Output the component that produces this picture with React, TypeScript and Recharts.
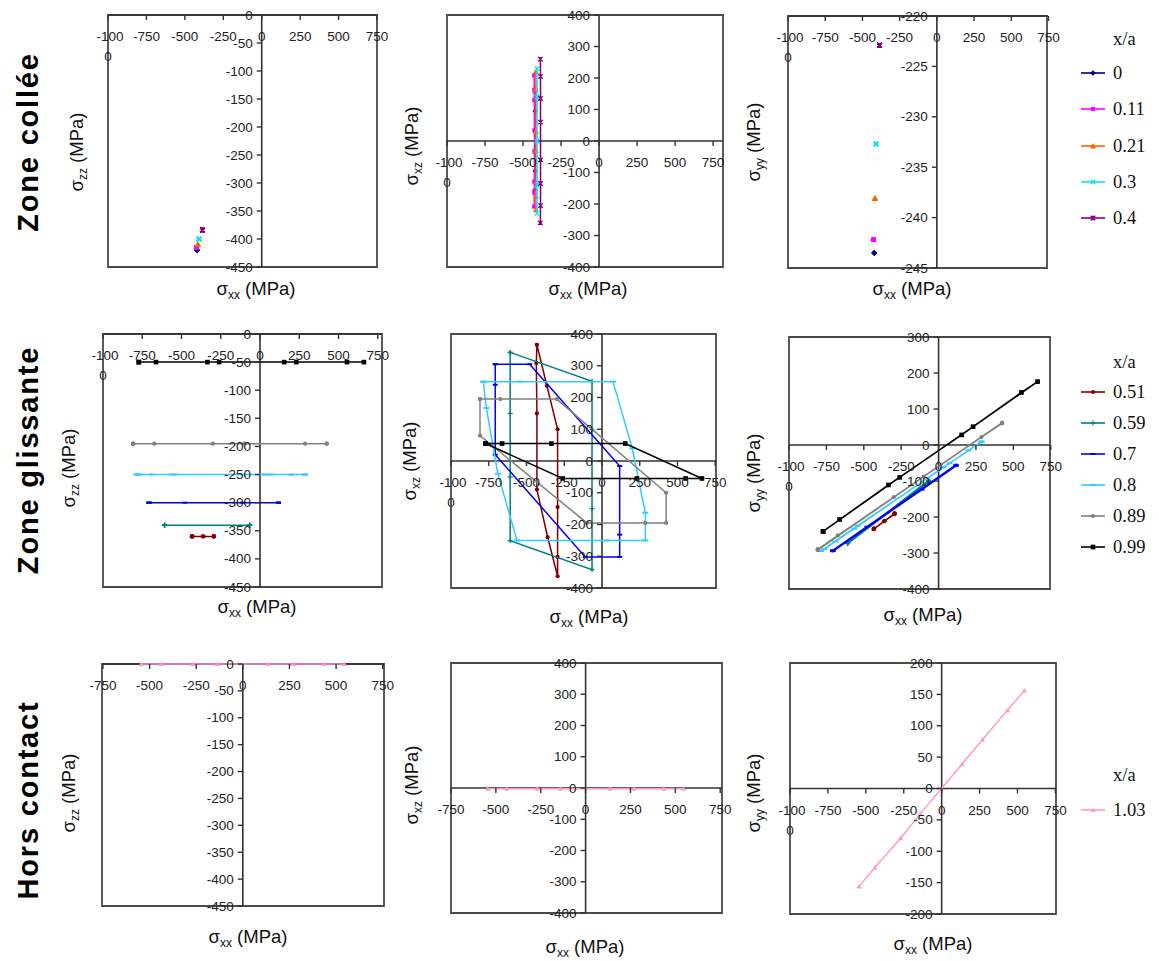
import React from "react";
import {
  ScatterChart,
  Scatter,
  XAxis,
  YAxis,
  ReferenceLine,
  ReferenceArea,
  ReferenceDot,
} from "recharts";

// tick values
const xTicksWide = [-1000, -750, -500, -250, 0, 250, 500, 750];
const xTicksNarrow = [-750, -500, -250, 0, 250, 500, 750];
const zzTicks = [0, -50, -100, -150, -200, -250, -300, -350, -400, -450];
const xzTicks = [400, 300, 200, 100, 0, -100, -200, -300, -400];
const yyTicksCollee = [-220, -225, -230, -235, -240, -245];
const yyTicksGliss = [300, 200, 100, 0, -100, -200, -300, -400];
const yyTicksHors = [200, 150, 100, 50, 0, -50, -100, -150, -200];

// zone collée : x/a = 0, 0.11, 0.21, 0.3, 0.4
const c00Sxx = [-421, -420, -420, -420, -420, -421];
const c00Szz = [-420, -420, -420, -420, -420, -420];
const c00Sxz = [156, 95, 30, -30, -95, -156];
const c00Syy = [-243.5, -243.5, -243.5, -243.5, -243.5, -243.5];

const c11Sxx = [-427, -426, -426, -425, -425, -426, -426, -427];
const c11Szz = [-415, -415, -415, -415, -415, -415, -415, -415];
const c11Sxz = [209, 162, 130, 35, -34, -129, -164, -208];
const c11Syy = [-242.2, -242.2, -242.2, -242.2, -242.2, -242.2, -242.2, -242.2];

const c21Sxx = [-416, -415, -415, -415, -415, -416];
const c21Szz = [-410, -410, -410, -410, -410, -410];
const c21Sxz = [220, 165, 30, -30, -175, -218];
const c21Syy = [-238.1, -238.1, -238.1, -238.1, -238.1, -238.1];

const c30Sxx = [-409, -408, -408, -408, -409];
const c30Szz = [-400, -400, -400, -400, -400];
const c30Sxz = [230, 140, 0, -140, -230];
const c30Syy = [-232.7, -232.7, -232.7, -232.7, -232.7];

const c40Sxx = [-386, -385, -385, -385, -385, -385, -385, -386];
const c40Szz = [-384, -384, -384, -384, -384, -384, -384, -384];
const c40Sxz = [260, 205, 135, 60, -60, -135, -205, -260];
const c40Syy = [-222.9, -222.9, -222.9, -222.9, -222.9, -222.9, -222.9, -222.9];

// zone glissante : x/a = 0.51 … 0.99
const g51Sxx = [-431, -365, -294, -294, -294, -294, -360, -431, -431, -435, -431];
const g51Szz = [-360, -360, -360, -360, -360, -360, -360, -360, -360, -360, -360];
const g51Sxz = [366, 237, 100, -145, -302, -363, -240, -90, 150, 309, 366];
const g51Syy = [-232, -212, -190, -191, -190, -192, -211, -233, -232, -234, -232];

const g59Sxx = [-608, -66, -66, -66, -66, -608, -608, -608, -608];
const g59Szz = [-340, -340, -340, -340, -340, -340, -340, -340, -340];
const g59Sxz = [342, 251, 100, -150, -342, -251, -50, 150, 342];
const g59Syy = [-272, -98, -100, -101, -102, -274, -273, -272, -272];

const g70Sxx = [-707, -479, 117, 117, 117, -111, -707, -707, -707];
const g70Szz = [-300, -300, -300, -300, -300, -300, -300, -300, -300];
const g70Sxz = [305, 305, -16, -232, -302, -302, 20, 240, 305];
const g70Syy = [-293, -227, -55, -57, -58, -124, -295, -294, -293];

const g80Sxx = [-786, -540, 73, 200, 287, 287, 30, -563, -690, -766, -786];
const g80Szz = [-250, -250, -250, -250, -250, -250, -250, -250, -250, -250, -250];
const g80Sxz = [250, 250, 250, 40, -163, -250, -250, -250, -40, 167, 250];
const g80Syy = [-294, -224, -51, -15, 10, 8, -62, -232, -268, -290, -294];

const g89Sxx = [-808, -673, -300, 425, 425, 287, -100, -808, -808];
const g89Szz = [-195, -195, -195, -195, -195, -195, -195, -195, -195];
const g89Sxz = [195, 195, 195, -100, -195, -195, -195, 80, 195];
const g89Syy = [-290, -251, -145, 62, 60, 22, -88, -292, -290];

const g99Sxx = [-772, -662, -335, 154, 662, 554, 231, -260, -772];
const g99Szz = [-50, -50, -50, -50, -50, -50, -50, -50, -50];
const g99Sxz = [55, 55, 55, 55, -55, -55, -55, -55, 55];
const g99Syy = [-240, -207, -111, 28, 176, 146, 51, -90, -240];

// hors contact : x/a = 1.03
const h103Sxx = [-545, -440, -270, -140, 135, 270, 435, 545];
const h103Szz = [0, 0, 0, 0, 0, 0, 0, 0];
const h103Sxz = [-2, -2, -2, -2, -2, -2, -2, -2];
const h103Syy = [-156, -126, -79, -40, 39, 78, 125, 156];

type Kind = "diamond" | "square" | "triangle" | "x" | "star" | "circle" | "plus" | "dash";
type Field = "szz" | "sxz" | "syy";
interface Serie {
  name: string;
  color: string;
  kind: Kind;
  size: number;
  sxx: number[];
  szz: number[];
  sxz: number[];
  syy: number[];
}

const collee: Serie[] = [
  { name: "0", color: "#000080", kind: "diamond", size: 2.8, sxx: c00Sxx, szz: c00Szz, sxz: c00Sxz, syy: c00Syy },
  { name: "0.11", color: "#FF00FF", kind: "square", size: 2.6, sxx: c11Sxx, szz: c11Szz, sxz: c11Sxz, syy: c11Syy },
  { name: "0.21", color: "#FF6600", kind: "triangle", size: 3, sxx: c21Sxx, szz: c21Szz, sxz: c21Sxz, syy: c21Syy },
  { name: "0.3", color: "#00E8F0", kind: "x", size: 2.2, sxx: c30Sxx, szz: c30Szz, sxz: c30Sxz, syy: c30Syy },
  { name: "0.4", color: "#800080", kind: "star", size: 2.2, sxx: c40Sxx, szz: c40Szz, sxz: c40Sxz, syy: c40Syy },
];

const glissante: Serie[] = [
  { name: "0.51", color: "#800000", kind: "circle", size: 2.1, sxx: g51Sxx, szz: g51Szz, sxz: g51Sxz, syy: g51Syy },
  { name: "0.59", color: "#008080", kind: "plus", size: 2.5, sxx: g59Sxx, szz: g59Szz, sxz: g59Sxz, syy: g59Syy },
  { name: "0.7", color: "#0000FF", kind: "dash", size: 2.5, sxx: g70Sxx, szz: g70Szz, sxz: g70Sxz, syy: g70Syy },
  { name: "0.8", color: "#33CCFF", kind: "dash", size: 3, sxx: g80Sxx, szz: g80Szz, sxz: g80Sxz, syy: g80Syy },
  { name: "0.89", color: "#808080", kind: "circle", size: 2.1, sxx: g89Sxx, szz: g89Szz, sxz: g89Sxz, syy: g89Syy },
  { name: "0.99", color: "#000000", kind: "square", size: 2.9, sxx: g99Sxx, szz: g99Szz, sxz: g99Sxz, syy: g99Syy },
];

const hors: Serie[] = [
  { name: "1.03", color: "#FF99CC", kind: "triangle", size: 2.6, sxx: h103Sxx, szz: h103Szz, sxz: h103Sxz, syy: h103Syy },
];

const SANS = '"Liberation Sans", Arial, sans-serif';
const SERIF = '"Liberation Serif", "Times New Roman", serif';

function Mark({ cx, cy, kind, color, s }: { cx: number; cy: number; kind: Kind; color: string; s: number }) {
  switch (kind) {
    case "diamond":
      return <path d={`M${cx},${cy - s}L${cx + s},${cy}L${cx},${cy + s}L${cx - s},${cy}Z`} fill={color} />;
    case "square":
      return <rect x={cx - s * 0.8} y={cy - s * 0.8} width={s * 1.6} height={s * 1.6} fill={color} />;
    case "triangle":
      return <path d={`M${cx},${cy - s}L${cx + s},${cy + s * 0.8}L${cx - s},${cy + s * 0.8}Z`} fill={color} />;
    case "x":
      return <path d={`M${cx - s},${cy - s}L${cx + s},${cy + s}M${cx - s},${cy + s}L${cx + s},${cy - s}`} stroke={color} strokeWidth={1.3} />;
    case "star":
      return (
        <path
          d={`M${cx - s},${cy - s}L${cx + s},${cy + s}M${cx - s},${cy + s}L${cx + s},${cy - s}M${cx},${cy - s}L${cx},${cy + s}`}
          stroke={color}
          strokeWidth={1.4}
        />
      );
    case "circle":
      return <circle cx={cx} cy={cy} r={s} fill={color} />;
    case "plus":
      return <path d={`M${cx - s},${cy}L${cx + s},${cy}M${cx},${cy - s}L${cx},${cy + s}`} stroke={color} strokeWidth={1.2} />;
    case "dash":
      return <rect x={cx - s} y={cy - 1} width={2 * s} height={2} fill={color} />;
  }
  return null;
}

function XTick({ cx, cy, v }: { cx: number; cy: number; v: number }) {
  const st = { fontFamily: SANS, fontSize: 13.5, fill: "#222" };
  return (
    <g>
      <line x1={cx} y1={cy} x2={cx} y2={cy + 5} stroke="#333" strokeWidth={1.4} />
      {v === -1000 ? (
        <>
          <text x={cx + 2} y={cy + 26} textAnchor="middle" {...st}>-100</text>
          <text x={cx} y={cy + 46} textAnchor="middle" {...st}>0</text>
        </>
      ) : (
        <text x={cx} y={cy + 26} textAnchor="middle" {...st}>{v}</text>
      )}
    </g>
  );
}

function YTick({ cx, cy, v }: { cx: number; cy: number; v: number }) {
  return (
    <g>
      <line x1={cx - 5} y1={cy} x2={cx} y2={cy} stroke="#333" strokeWidth={1.4} />
      <text x={cx - 9} y={cy + 4.5} textAnchor="end" fontFamily={SANS} fontSize={13.5} fill="#222">
        {v}
      </text>
    </g>
  );
}

interface PanelProps {
  left: number;
  top: number;
  w: number;
  h: number;
  xDom: [number, number];
  yDom: [number, number];
  xTicks: number[];
  yTicks: number[];
  crossY: number;
  field: Field;
  series: Serie[];
}

function Panel({ left, top, w, h, xDom, yDom, xTicks, yTicks, crossY, field, series }: PanelProps) {
  const M = 26;
  return (
    <div style={{ position: "absolute", left: left - M, top: top - M }}>
      <ScatterChart width={w + 2 * M} height={h + 2 * M} margin={{ top: M, right: M, bottom: M, left: M }}>
        <XAxis type="number" dataKey="x" domain={xDom} hide />
        <YAxis type="number" dataKey="y" domain={yDom} hide />
        <ReferenceArea
          x1={xDom[0]}
          x2={xDom[1]}
          y1={yDom[0]}
          y2={yDom[1]}
          fill="none"
          fillOpacity={0}
          stroke="#4a4a4a"
          strokeWidth={1.8}
          ifOverflow="visible"
        />
        <ReferenceLine x={0} stroke="#333" strokeWidth={1.6} ifOverflow="visible" />
        <ReferenceLine y={crossY} stroke="#333" strokeWidth={1.6} ifOverflow="visible" />
        {series.map((s) => (
          <Scatter
            key={s.name}
            name={s.name}
            data={s.sxx.map((x, i) => ({ x, y: s[field][i] }))}
            fill={s.color}
            line={{ stroke: s.color, strokeWidth: 1.5 }}
            isAnimationActive={false}
            shape={(p: any) => <Mark cx={p.cx} cy={p.cy} kind={s.kind} color={s.color} s={s.size} />}
          />
        ))}
        {xTicks.map((t) => (
          <ReferenceDot
            key={"x" + t}
            x={t}
            y={crossY}
            ifOverflow="visible"
            shape={(p: any) => <XTick cx={p.cx} cy={p.cy} v={t} />}
          />
        ))}
        {yTicks.map((t) => (
          <ReferenceDot
            key={"y" + t}
            x={0}
            y={t}
            ifOverflow="visible"
            shape={(p: any) => <YTick cx={p.cx} cy={p.cy} v={t} />}
          />
        ))}
      </ScatterChart>
    </div>
  );
}

function Title({ x, y, sub, rotate }: { x: number; y: number; sub: string; rotate?: boolean }) {
  return (
    <div
      style={{
        position: "absolute",
        left: x,
        top: y,
        transform: `translate(-50%, -50%)${rotate ? " rotate(-90deg)" : ""}`,
        whiteSpace: "nowrap",
        fontFamily: SANS,
        fontSize: 18.5,
        color: "#111",
        lineHeight: "22px",
      }}
    >
      σ<sub style={{ fontSize: 12, verticalAlign: "-4px" }}>{sub}</sub> (MPa)
    </div>
  );
}

function RowLabel({ y, text }: { y: number; text: string }) {
  return (
    <div
      style={{
        position: "absolute",
        left: 28,
        top: y,
        transform: "translate(-50%, -50%) rotate(-90deg)",
        whiteSpace: "nowrap",
        fontFamily: SANS,
        fontWeight: "bold",
        fontSize: 29,
        letterSpacing: 1.8,
        color: "#000",
      }}
    >
      {text}
    </div>
  );
}

function LegendBlock({ titleY, firstY, rowH, series }: { titleY: number; firstY: number; rowH: number; series: Serie[] }) {
  const label = { position: "absolute" as const, left: 1113, fontFamily: SERIF, fontSize: 18.5, color: "#111", lineHeight: "20px" };
  return (
    <>
      <div style={{ ...label, top: titleY - 10 }}>x/a</div>
      {series.map((s, i) => {
        const cy = firstY + i * rowH;
        return (
          <React.Fragment key={s.name}>
            <svg width={28} height={14} style={{ position: "absolute", left: 1080, top: cy - 7 }}>
              <line x1={1} y1={7} x2={25} y2={7} stroke={s.color} strokeWidth={1.6} />
              <Mark cx={13} cy={7} kind={s.kind} color={s.color} s={s.size} />
            </svg>
            <div style={{ ...label, top: cy - 10 }}>{s.name}</div>
          </React.Fragment>
        );
      })}
    </>
  );
}

export default function App() {
  return (
    <div style={{ position: "absolute", left: 0, top: 0, width: 1159, height: 961, background: "#fff", overflow: "hidden" }}>
      <RowLabel y={142} text="Zone collée" />
      <RowLabel y={460} text="Zone glissante" />
      <RowLabel y={800} text="Hors contact" />

      {/* Zone collée */}
      <Panel left={108} top={15} w={269} h={252} xDom={[-1000, 750]} yDom={[-450, 0]} xTicks={xTicksWide} yTicks={zzTicks} crossY={0} field="szz" series={collee} />
      <Panel left={447} top={15} w={276} h={252} xDom={[-1000, 815]} yDom={[-400, 400]} xTicks={xTicksWide} yTicks={xzTicks} crossY={0} field="sxz" series={collee} />
      <Panel left={788} top={16} w={259} h={252} xDom={[-1000, 740]} yDom={[-245, -220]} xTicks={xTicksWide} yTicks={yyTicksCollee} crossY={-220} field="syy" series={collee} />

      {/* Zone glissante */}
      <Panel left={103} top={334} w={279} h={253} xDom={[-1000, 777]} yDom={[-450, 0]} xTicks={xTicksWide} yTicks={zzTicks} crossY={0} field="szz" series={glissante} />
      <Panel left={451} top={334} w={265} h={254} xDom={[-1000, 755]} yDom={[-400, 400]} xTicks={xTicksWide} yTicks={xzTicks} crossY={0} field="sxz" series={glissante} />
      <Panel left={789} top={337} w={261} h={252} xDom={[-1000, 745]} yDom={[-400, 300]} xTicks={xTicksWide} yTicks={yyTicksGliss} crossY={0} field="syy" series={glissante} />

      {/* Hors contact */}
      <Panel left={102} top={664} w={282} h={242} xDom={[-755, 757]} yDom={[-450, 0]} xTicks={xTicksNarrow} yTicks={zzTicks} crossY={0} field="szz" series={hors} />
      <Panel left={451} top={663} w={271} h={250} xDom={[-750, 760]} yDom={[-400, 400]} xTicks={xTicksNarrow} yTicks={xzTicks} crossY={0} field="sxz" series={hors} />
      <Panel left={790} top={663} w={266} h={251} xDom={[-1000, 754]} yDom={[-200, 200]} xTicks={xTicksWide} yTicks={yyTicksHors} crossY={0} field="syy" series={hors} />

      {/* axis titles */}
      <Title x={256} y={292} sub="xx" />
      <Title x={588} y={292} sub="xx" />
      <Title x={912} y={292} sub="xx" />
      <Title x={80} y={152} sub="zz" rotate />
      <Title x={415} y={146} sub="xz" rotate />
      <Title x={757} y={142} sub="yy" rotate />

      <Title x={257} y={610} sub="xx" />
      <Title x={589} y={620} sub="xx" />
      <Title x={923} y={618} sub="xx" />
      <Title x={72} y={468} sub="zz" rotate />
      <Title x={413} y={461} sub="xz" rotate />
      <Title x={757} y={473} sub="yy" rotate />

      <Title x={248} y={940} sub="xx" />
      <Title x={585} y={950} sub="xx" />
      <Title x={933} y={947} sub="xx" />
      <Title x={72} y={793} sub="zz" rotate />
      <Title x={415} y={785} sub="xz" rotate />
      <Title x={757} y={793} sub="yy" rotate />

      <LegendBlock titleY={39} firstY={73} rowH={36.3} series={collee} />
      <LegendBlock titleY={362} firstY={392} rowH={31} series={glissante} />
      <LegendBlock titleY={775} firstY={810} rowH={31} series={hors} />
    </div>
  );
}
